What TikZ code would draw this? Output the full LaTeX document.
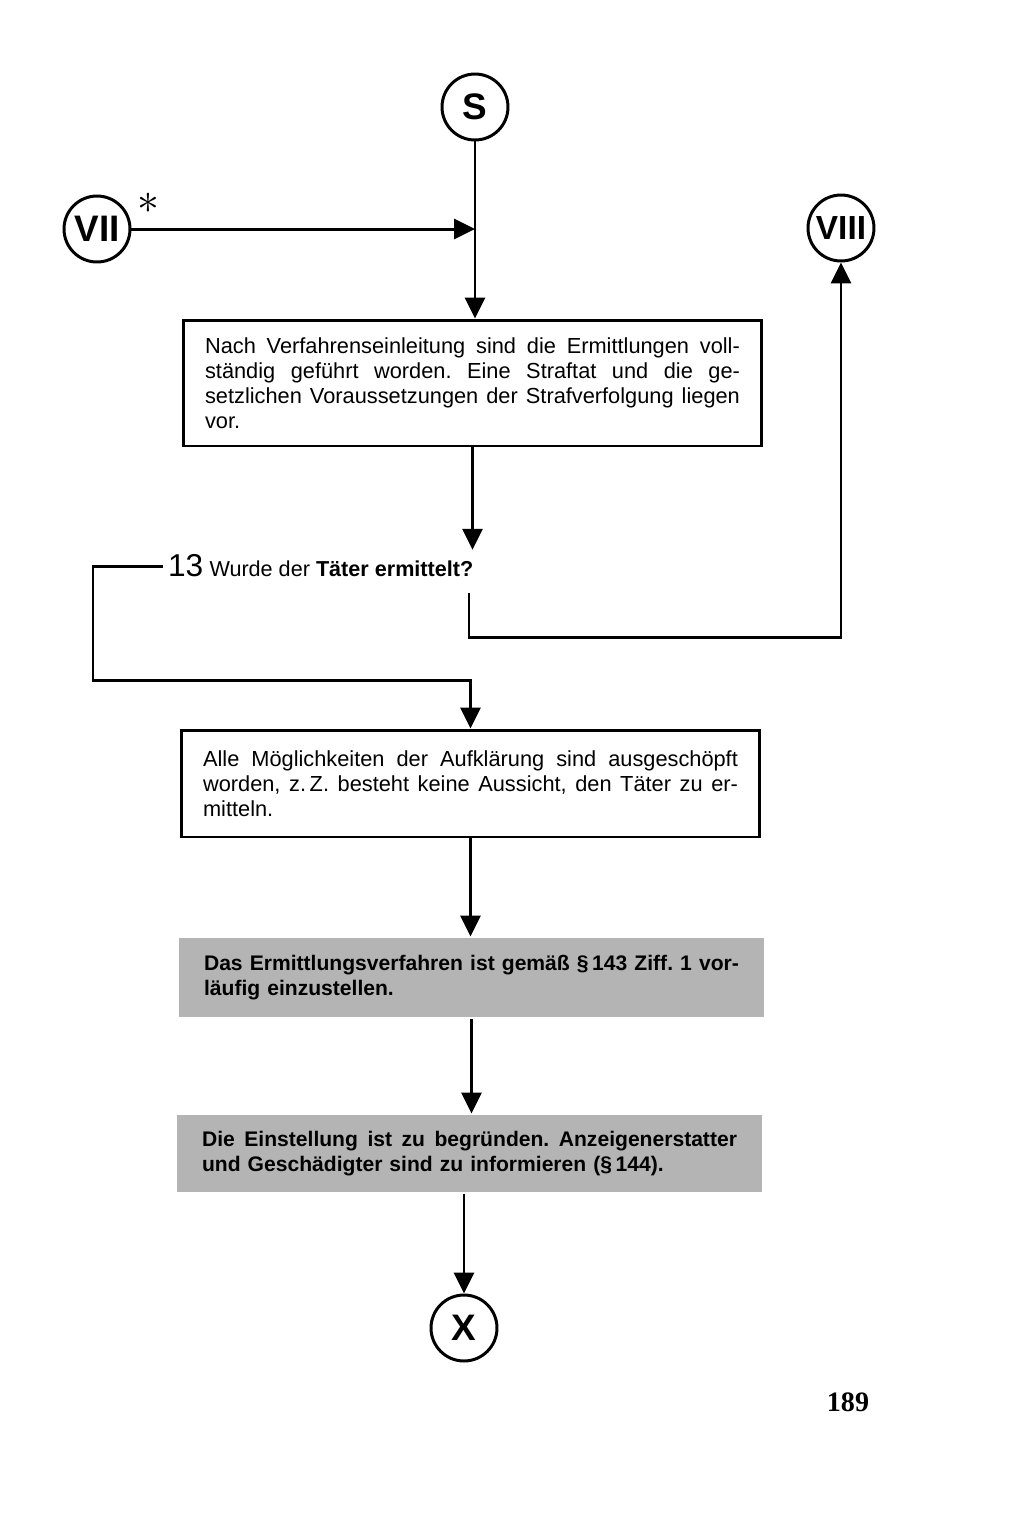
\documentclass[tikz,border=0pt]{standalone}
\usepackage{fontspec}
\setmainfont{Liberation Sans}
\newfontfamily\pagefont{Liberation Serif}
\usetikzlibrary{arrows.meta,positioning}
\definecolor{scangray}{RGB}{180,180,180}
\frenchspacing
\newcommand{\fullline}[1]{\leavevmode\hbox to 10.7cm{\spaceskip=0.28em plus 1fil\relax #1}}

\begin{document}
\begin{tikzpicture}[x=0.02cm,y=-0.02cm,
	line width=1.7pt,
	>={Triangle[length=0.42cm,width=0.4cm]},
	conn/.style={circle,draw,minimum size=1.32cm,inner sep=0pt,font=\bfseries\fontsize{21}{21}\selectfont},
	stepbox/.style={draw,rectangle,text width=10.7cm,inner xsep=0.44cm,align=left,font=\fontsize{12.4}{14.2}\selectfont},
	graybox/.style={rectangle,fill=scangray,text width=10.7cm,inner xsep=0.5cm,align=left,font=\bfseries\fontsize{12}{14.2}\selectfont}]
	\useasboundingbox (0,0) rectangle (1024,1516);
	% connectors
	\node[conn] (s) at (475,107) {S};
	\node[conn] (vii) at (97,229) {VII};
	\node[conn] (viii) at (841,228) {\fontsize{19}{19}\selectfont VIII};
	\node[conn] (x) at (464,1328) {X};
	\node (star) at (148,203) {\fontsize{44}{44}\selectfont$\ast$};
	% boxes
	\node[stepbox,minimum height=2.52cm] (nach) at (472.5,383) {\fullline{Nach Verfahrenseinleitung sind die Ermittlungen voll-}\\\fullline{ständig geführt worden. Eine Straftat und die ge-}\\\fullline{setzlichen Voraussetzungen der Strafverfolgung liegen}\\vor.};
	\node[anchor=west,inner sep=2pt] (q) at (163,566) {\fontsize{18}{18}\selectfont 13\hspace{0.2em}\fontsize{12.3}{14}\selectfont Wurde der \textbf{Täter ermittelt?}};
	\node[stepbox,minimum height=2.14cm] (ermitteln) at (470.5,783.5) {\fullline{Alle Möglichkeiten der Aufklärung sind ausgeschöpft}\\\fullline{worden, z.\,Z. besteht keine Aussicht, den Täter zu er-}\\mitteln.};
	\node[graybox,minimum height=1.58cm] (einstellen) at (471.5,977.5) {\fullline{Das Ermittlungsverfahren ist gemäß §\,143 Ziff. 1 vor-}\\läufig einzustellen.};
	\node[graybox,minimum height=1.54cm] (begruenden) at (469.5,1153.5) {\fullline{Die Einstellung ist zu begründen. Anzeigenerstatter}\\und Geschädigter sind zu informieren (§\,144).};
	\node[font=\pagefont\bfseries\fontsize{16}{16}\selectfont] (page) at (848,1402) {189};
	\coordinate (lft) at (93,680);
	\coordinate (qout) at (469,593);
	\coordinate (qbend) at (469,637);
	% arrows
	\draw[->] (s.south) -- (s.south |- nach.north);
	\draw[->] (vii) -- (vii -| s);
	\draw[->] (nach.south) -- (nach.south |- q.north);
	\draw[->] (q.west) -| (lft) -| (ermitteln.north);
	\draw[->] (qout) -- (qbend) -| (viii.south);
	\draw[->] (ermitteln.south) -- (ermitteln.south |- einstellen.north);
	\draw[->] (einstellen.south) -- (einstellen.south |- begruenden.north);
	\draw[->] (x |- begruenden.south) -- (x);
\end{tikzpicture}
\end{document}
